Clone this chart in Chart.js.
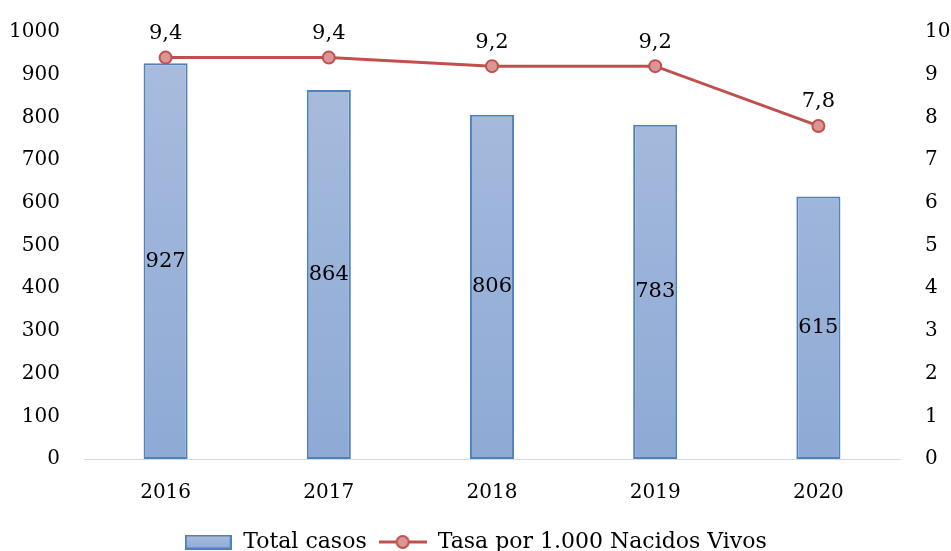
<!DOCTYPE html>
<html>
<head>
<meta charset="utf-8">
<script src="https://cdn.jsdelivr.net/npm/chart.js@4.4.0/dist/chart.umd.min.js"></script>
<style>
  html, body { margin: 0; padding: 0; background: #fff; }
  #wrap { width: 951px; height: 551px; }
</style>
</head>
<body>
<div id="wrap"><canvas id="chart" width="951" height="551"></canvas></div>
<script>
var years = ["2016", "2017", "2018", "2019", "2020"];
var total_casos = [927, 864, 806, 783, 615];
var tasa = [9.4, 9.4, 9.2, 9.2, 7.8];
var left_ticks = [0, 100, 200, 300, 400, 500, 600, 700, 800, 900, 1000];
var right_ticks = [0, 1, 2, 3, 4, 5, 6, 7, 8, 9, 10];

var FONT = "'DejaVu Serif', serif";
var BAR_BORDER = "#4F81BD";
var LINE_COLOR = "#C0504D";
var POINT_FILL = "#D99694";

function bar_gradient(ctx, top, bottom){
    var g = ctx.createLinearGradient(0, top, 0, bottom);
    g.addColorStop(0, "#AABDDD");
    g.addColorStop(1, "#8EAAD5");
    return g;
}

// little legend icons, drawn once
function make_bar_icon(){
    var c = document.createElement("canvas");
    c.width = 47; c.height = 15;
    var x = c.getContext("2d");
    x.fillStyle = bar_gradient(x, 1, 14);
    x.fillRect(1, 1, 45, 13);
    x.strokeStyle = BAR_BORDER;
    x.lineWidth = 2;
    x.strokeRect(1, 1, 45, 13);
    return c;
}

function make_line_icon(){
    var c = document.createElement("canvas");
    c.width = 48; c.height = 16;
    var x = c.getContext("2d");
    x.strokeStyle = LINE_COLOR;
    x.lineWidth = 3;
    x.beginPath(); x.moveTo(0, 8); x.lineTo(48, 8); x.stroke();
    x.beginPath(); x.arc(24, 8, 6, 0, Math.PI * 2);
    x.fillStyle = POINT_FILL; x.fill();
    x.lineWidth = 2; x.stroke();
    return c;
}

var valueLabels = {
    id: "valueLabels",
    afterDatasetsDraw: function(chart){
        var ctx = chart.ctx;
        ctx.save();
        ctx.font = "21px " + FONT;
        ctx.fillStyle = "#000";
        ctx.textAlign = "center";
        ctx.textBaseline = "middle";
        chart.data.datasets.forEach(function(ds, i){
            var meta = chart.getDatasetMeta(i);
            meta.data.forEach(function(el, j){
                if (ds.type === "bar") {
                    ctx.fillText(String(ds.data[j]), el.x, (el.y + el.base) / 2);
                } else {
                    ctx.fillText(ds.data[j].toFixed(1).replace(".", ","), el.x, el.y - 24);
                }
            });
        });
        ctx.restore();
    }
};

new Chart(document.getElementById("chart"), {
    type: "bar",
    data: {
        labels: years,
        datasets: [{
            type: "line",
            label: "Tasa por 1.000 Nacidos Vivos",
            data: tasa,
            yAxisID: "y2",
            borderColor: LINE_COLOR,
            borderWidth: 3,
            pointRadius: 6,
            pointBackgroundColor: POINT_FILL,
            pointBorderColor: LINE_COLOR,
            pointBorderWidth: 2,
            tension: 0,
            order: 0
        }, {
            type: "bar",
            label: "Total casos",
            data: total_casos,
            yAxisID: "y",
            backgroundColor: function(context){
                var area = context.chart.chartArea;
                if (!area) return "#9DB4DA";
                return bar_gradient(context.chart.ctx, area.top, area.bottom);
            },
            borderColor: BAR_BORDER,
            borderWidth: 2,
            borderSkipped: false,
            categoryPercentage: 1,
            barPercentage: 0.27,
            order: 1
        }]
    },
    options: {
        responsive: false,
        animation: false,
        layout: { padding: { top: 32, bottom: -12, left: 0, right: 0 } },
        scales: {
            x: {
                grid: { display: false },
                border: { display: true, color: "#D9D9D9", width: 1 },
                ticks: { color: "#000", font: { family: FONT, size: 20 }, padding: 14 },
                afterFit: function(scale){ scale.height = 60; }
            },
            y: {
                position: "left",
                min: 0, max: 1000,
                afterBuildTicks: function(scale){ scale.ticks = left_ticks.map(function(v){ return { value: v }; }); },
                grid: { display: false },
                border: { display: false },
                ticks: {
                    color: "#000", font: { family: FONT, size: 20 }, padding: 16,
                    callback: function(v){ return String(v); }
                },
                afterFit: function(scale){ scale.width = 84; }
            },
            y2: {
                position: "right",
                min: 0, max: 10,
                afterBuildTicks: function(scale){ scale.ticks = right_ticks.map(function(v){ return { value: v }; }); },
                grid: { display: false },
                border: { display: false },
                ticks: {
                    color: "#000", font: { family: FONT, size: 20 }, padding: 17,
                    callback: function(v){ return String(v); }
                },
                afterFit: function(scale){ scale.width = 51; }
            }
        },
        plugins: {
            legend: {
                position: "bottom",
                reverse: true,
                labels: {
                    color: "#000",
                    font: { family: FONT, size: 22 },
                    usePointStyle: true,
                    pointStyleWidth: 48,
                    padding: 12,
                    generateLabels: function(chart){
                        return chart.data.datasets.map(function(ds, i){
                            return {
                                text: ds.label,
                                datasetIndex: i,
                                pointStyle: ds.type === "bar" ? make_bar_icon() : make_line_icon(),
                                hidden: false
                            };
                        });
                    }
                }
            },
            tooltip: { enabled: false }
        }
    },
    plugins: [valueLabels]
});
</script>
</body>
</html>
